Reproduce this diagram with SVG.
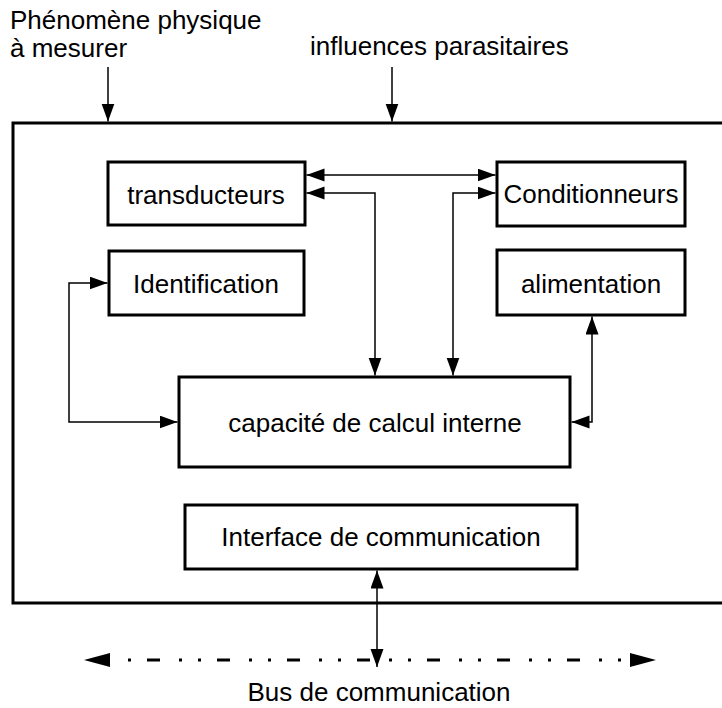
<svg xmlns="http://www.w3.org/2000/svg" width="722" height="708" viewBox="0 0 722 708">
  <style>
    .box { fill: #ffffff; stroke: #000000; stroke-width: 3; }
    .frame { fill: none; stroke: #000000; stroke-width: 3; }
    .label { font-family: "Liberation Sans", Arial, sans-serif; font-size: 26px; fill: #000000; }
    .mid { text-anchor: middle; }
    .link { fill: none; stroke: #000000; stroke-width: 1.5; marker-start: url(#head); marker-end: url(#head); }
    .oneway { fill: none; stroke: #000000; stroke-width: 1.5; marker-end: url(#head); }
    .bus { fill: none; stroke: #000000; stroke-width: 3; stroke-dasharray: 3 16 13 19 3 16; }
  </style>
  <defs>
    <marker id="head" markerUnits="userSpaceOnUse" markerWidth="19" markerHeight="14" refX="18" refY="6.5" orient="auto-start-reverse" viewBox="0 0 19 14">
      <path d="M0,0 L18,6.5 L0,13 Z" fill="#000000"/>
    </marker>
  </defs>

  <rect fill="#ffffff" x="0" y="0" width="722" height="708"/>

  <!-- outside labels -->
  <text class="label" x="10" y="29">Phénomène physique</text>
  <text class="label" x="10" y="57">à mesurer</text>
  <text class="label" x="310" y="55">influences parasitaires</text>
  <text class="label mid" x="379" y="701">Bus de communication</text>

  <!-- instrument enclosure -->
  <rect id="enclosure" class="frame" x="13" y="123" width="720" height="480"/>

  <g id="transducteurs">
    <rect class="box" x="108" y="162" width="197" height="63"/>
    <text class="label mid" x="206" y="204">transducteurs</text>
  </g>
  <g id="conditionneurs">
    <rect class="box" x="497" y="162" width="188" height="64"/>
    <text class="label mid" x="591" y="203">Conditionneurs</text>
  </g>
  <g id="identification">
    <rect class="box" x="109" y="251" width="195" height="64"/>
    <text class="label mid" x="206" y="293">Identification</text>
  </g>
  <g id="alimentation">
    <rect class="box" x="497" y="250" width="188" height="65"/>
    <text class="label mid" x="591" y="293">alimentation</text>
  </g>
  <g id="calcul">
    <rect class="box" x="179" y="377" width="391" height="90"/>
    <text class="label mid" x="375" y="432">capacité de calcul interne</text>
  </g>
  <g id="interface">
    <rect class="box" x="185" y="505" width="392" height="64"/>
    <text class="label mid" x="381" y="546">Interface de communication</text>
  </g>

  <g id="connectors">
    <!-- external influences -->
    <path class="oneway" d="M108,67 V121.5"/>
    <path class="oneway" d="M392,67 V121.5"/>
    <!-- internal exchanges -->
    <path class="link" d="M306.5,175 H495.5"/>
    <path class="link" d="M306.5,193 H375 V375.5"/>
    <path class="link" d="M495.5,193 H453 V375.5"/>
    <path class="link" d="M107.5,283 H69 V422 H177.5"/>
    <path class="link" d="M592,316.5 V422 H571.5"/>
    <!-- bus access -->
    <path class="link" d="M377,570.5 V667"/>
    <!-- communication bus -->
    <path class="bus" d="M128,660 H622"/>
    <path d="M84,660 L110,653 L110,667 Z" fill="#000000"/>
    <path d="M656,660 L630,653 L630,667 Z" fill="#000000"/>
  </g>
</svg>
